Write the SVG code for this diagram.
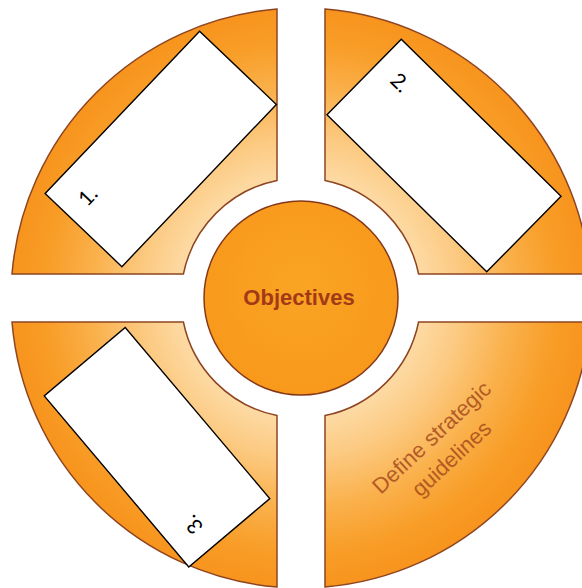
<svg xmlns="http://www.w3.org/2000/svg" width="582" height="588" viewBox="0 0 582 588">
  <defs>
    <radialGradient id="ringFill" gradientUnits="userSpaceOnUse" cx="301" cy="298" r="290">
      <stop offset="0.4" stop-color="#FDDCA8"/>
      <stop offset="0.55" stop-color="#FCCA82"/>
      <stop offset="0.72" stop-color="#FAB14C"/>
      <stop offset="0.88" stop-color="#F89D27"/>
      <stop offset="1" stop-color="#F7941D"/>
    </radialGradient>
    <radialGradient id="hubFill" cx="0.5" cy="0.45" r="0.6">
      <stop offset="0" stop-color="#FAA424"/>
      <stop offset="1" stop-color="#F8981B"/>
    </radialGradient>
    <style>
      .quad { fill: url(#ringFill); stroke: #8E4521; stroke-width: 1.5; }
      .hub { fill: url(#hubFill); stroke: #86391A; stroke-width: 1.5; }
      .card { fill: #FFFFFF; stroke: #000000; stroke-width: 1.4; }
      .num { font-family: Lato, "Open Sans", sans-serif; font-size: 21px; fill: #000000; }
      .hubText { font-family: "Liberation Sans", Arial, sans-serif; font-size: 22px; font-weight: bold; fill: #A33A17; }
      .segText { font-family: "Liberation Sans", Arial, sans-serif; font-size: 22px; fill: #AC521F; opacity: 0.9; }
    </style>
  </defs>

  <!-- four ring segments around the hub -->
  <g id="segment-top-left">
    <path class="quad" d="M277,9 L277,180.4 A120,120 0 0 0 183.4,274 L12,274 A290,290 0 0 1 277,9 Z"/>
  </g>
  <g id="segment-top-right">
    <path class="quad" d="M325,9 A290,290 0 0 1 590,274 L418.6,274 A120,120 0 0 0 325,180.4 Z"/>
  </g>
  <g id="segment-bottom-right">
    <path class="quad" d="M418.6,322 L590,322 A290,290 0 0 1 325,587 L325,415.6 A120,120 0 0 0 418.6,322 Z"/>
    <g transform="translate(441.5,448) rotate(-43)">
      <text class="segText" text-anchor="middle" x="0" y="-7">Define strategic</text>
      <text class="segText" text-anchor="middle" x="0" y="22">guidelines</text>
    </g>
  </g>
  <g id="segment-bottom-left">
    <path class="quad" d="M12,322 L183.4,322 A120,120 0 0 0 277,415.6 L277,587 A290,290 0 0 1 12,322 Z"/>
  </g>

  <!-- central hub -->
  <g id="hub">
    <circle class="hub" cx="301" cy="298" r="97"/>
    <text class="hubText" x="299" y="305" text-anchor="middle">Objectives</text>
  </g>

  <!-- numbered cards laid over the segments -->
  <g id="card-1" transform="translate(160.75,149) rotate(-46.4)">
    <rect class="card" x="-112" y="-53" width="224" height="106"/>
    <text class="num" x="-93" y="-13">1.</text>
  </g>
  <g id="card-2" transform="translate(444,155.5) rotate(44.5)">
    <rect class="card" x="-112" y="-53" width="224" height="106"/>
    <text class="num" x="-91" y="-14">2.</text>
  </g>
  <g id="card-3" transform="translate(157,447.25) rotate(229.8)">
    <rect class="card" x="-112" y="-53" width="224" height="106"/>
    <text class="num" x="-91" y="-15">3.</text>
  </g>

  <g id="connectors"/>
</svg>
